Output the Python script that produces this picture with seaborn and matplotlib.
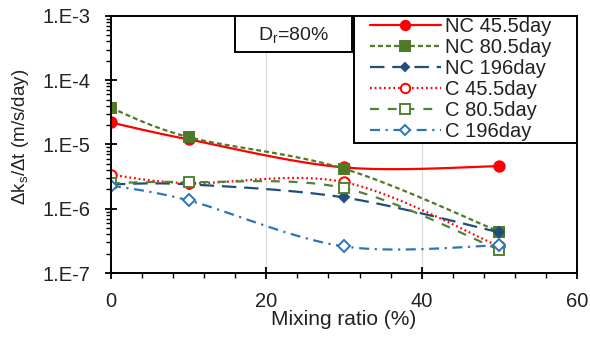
import numpy as np
import pandas as pd
import seaborn as sns
import matplotlib
matplotlib.use("Agg")
import matplotlib.pyplot as plt
from matplotlib.lines import Line2D
from matplotlib.patches import Rectangle
from matplotlib.ticker import FixedLocator, LogLocator, NullFormatter, FuncFormatter

# Mixing ratio (%)
mixing_ratio = [0, 10, 30, 50]

# Rate of change of hydraulic conductivity, m/s/day
nc_45_5 = [2.2e-5, 1.2e-5, 4.4e-6, 4.6e-6]
nc_80_5 = [3.7e-5, 1.3e-5, 4.2e-6, 4.4e-7]
nc_196 = [2.4e-6, 2.4e-6, 1.5e-6, 4.3e-7]
c_45_5 = [3.4e-6, 2.5e-6, 2.6e-6, 2.6e-7]
c_80_5 = [2.5e-6, 2.6e-6, 2.1e-6, 2.3e-7]
c_196 = [2.3e-6, 1.35e-6, 2.6e-7, 2.7e-7]

series_labels = ["NC 45.5day", "NC 80.5day", "NC 196day",
                 "C 45.5day", "C 80.5day", "C 196day"]
series_values = [nc_45_5, nc_80_5, nc_196, c_45_5, c_80_5, c_196]

styles = [
    dict(color="#FF0000", ls="-", marker="o", ms=7.5, mfc="#FF0000"),
    dict(color="#4E7A28", ls=(0, (2.2, 1.4)), marker="s", ms=7.5, mfc="#4E7A28"),
    dict(color="#1F4E79", ls=(0, (6.5, 3.5)), marker="D", ms=5.0, mfc="#1F4E79"),
    dict(color="#FF0000", ls=(0, (0.8, 1.3)), marker="o", ms=7.5, mfc="white"),
    dict(color="#548235", ls=(0, (4.0, 4.0)), marker="s", ms=7.5, mfc="white"),
    dict(color="#2E75B6", ls=(0, (4.5, 2.5, 1.0, 2.5)), marker="D", ms=6.0, mfc="white"),
]


def smooth_curve(x, y, n=40):
    """Catmull-Rom curve through the points in (x, log10 y) space."""
    px = np.asarray(x, float)
    py = np.log10(np.asarray(y, float))
    P = np.column_stack([px, py])
    P = np.vstack([P[0], P, P[-1]])
    out = []
    t = np.linspace(0, 1, n)
    for i in range(1, len(P) - 2):
        p0, p1, p2, p3 = P[i - 1], P[i], P[i + 1], P[i + 2]
        m1 = (p2 - p0) / 2.0
        m2 = (p3 - p1) / 2.0
        h00 = 2 * t**3 - 3 * t**2 + 1
        h10 = t**3 - 2 * t**2 + t
        h01 = -2 * t**3 + 3 * t**2
        h11 = t**3 - t**2
        seg = (h00[:, None] * p1 + h10[:, None] * m1
               + h01[:, None] * p2 + h11[:, None] * m2)
        out.append(seg if i == 1 else seg[1:])
    seg = np.vstack(out)
    return seg[:, 0], 10 ** seg[:, 1]


sns.set_theme(style="ticks")
plt.rcParams["font.family"] = ["Liberation Sans", "DejaVu Sans"]
plt.rcParams["mathtext.fontset"] = "custom"
plt.rcParams["mathtext.rm"] = "Liberation Sans"
plt.rcParams["mathtext.it"] = "Liberation Sans"

TEXT = "#222222"

fig = plt.figure(figsize=(5.9, 3.38), dpi=100)
ax = fig.add_axes([0.188, 0.192, 0.79, 0.761])

handles = []
for label, vals, st in zip(series_labels, series_values, styles):
    sx, sy = smooth_curve(mixing_ratio, vals)
    df = pd.DataFrame({"x": sx, "y": sy})
    sns.lineplot(data=df, x="x", y="y", ax=ax, estimator=None, sort=False,
                 color=st["color"], linestyle=st["ls"], linewidth=1.6,
                 legend=False)
    ax.plot(mixing_ratio, vals, linestyle="none", marker=st["marker"],
            markersize=st["ms"], markerfacecolor=st["mfc"],
            markeredgecolor=st["color"], markeredgewidth=1.4,
            color=st["color"])
    handles.append(Line2D([], [], color=st["color"], linestyle=st["ls"],
                          linewidth=1.6, marker=st["marker"],
                          markersize=st["ms"] * 0.9, markerfacecolor=st["mfc"],
                          markeredgecolor=st["color"], markeredgewidth=1.4))

ax.set_yscale("log")
ax.set_xlim(0, 60)
ax.set_ylim(1e-7, 1e-3)

ax.xaxis.set_major_locator(FixedLocator([0, 20, 40, 60]))
ax.xaxis.set_minor_locator(FixedLocator(np.arange(0, 61, 4)))
ax.yaxis.set_major_locator(LogLocator(base=10, numticks=10))
ax.yaxis.set_minor_locator(LogLocator(base=10, subs=np.arange(2, 10), numticks=20))
ax.yaxis.set_minor_formatter(NullFormatter())
ax.yaxis.set_major_formatter(FuncFormatter(lambda v, p: "1.E%d" % round(np.log10(v))))

ax.tick_params(axis="both", which="major", direction="inout", length=9,
               width=1.3, color="black", labelsize=14.5, labelcolor=TEXT)
ax.tick_params(axis="both", which="minor", direction="out", length=3.5,
               width=1.0, color="black")
ax.tick_params(axis="x", which="major", pad=9)
ax.tick_params(axis="y", which="major", pad=10)

for sp in ax.spines.values():
    sp.set_visible(True)
    sp.set_color("black")
    sp.set_linewidth(1.4)

for gx in [20, 40]:
    ax.axvline(gx, color="#D9D9D9", linewidth=0.8, zorder=0)

ax.set_xlabel("Mixing ratio (%)", fontsize=15, color=TEXT)
ax.set_ylabel("Δk$_s$/Δt (m/s/day)", fontsize=13.5, color=TEXT)
ax.xaxis.set_label_coords(0.5, -0.145, transform=ax.transAxes)
ax.yaxis.set_label_coords(-0.195, 0.53, transform=ax.transAxes)
ax.xaxis.label.set_va("top")
ax.yaxis.label.set_va("center")

# Relative density annotation box
ax.add_patch(Rectangle((0.266, 0.86), 0.251, 0.14, transform=ax.transAxes,
                       facecolor="white", edgecolor="black", linewidth=1.4,
                       zorder=5))
ax.text(0.392, 0.925, "D$_\\mathregular{r}$=80%", transform=ax.transAxes,
        ha="center", va="center", fontsize=14, color=TEXT, zorder=6)

# Legend with its own frame
ax.add_patch(Rectangle((0.521, 0.506), 0.479, 0.494, transform=ax.transAxes,
                       facecolor="white", edgecolor="black", linewidth=1.4,
                       zorder=5))
leg = ax.legend(handles, series_labels, loc="upper left",
                bbox_to_anchor=(0.556, 0.994), fontsize=14.5, frameon=False,
                handlelength=3.5, handletextpad=0.2, labelspacing=0.1,
                borderpad=0, borderaxespad=0)
leg.set_zorder(6)
for t in leg.get_texts():
    t.set_color(TEXT)

fig.savefig("out.png", dpi=100)
